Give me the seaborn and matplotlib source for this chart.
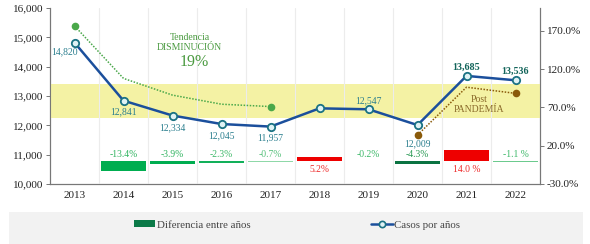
import numpy as np
import pandas as pd
import matplotlib
matplotlib.use("Agg")
import matplotlib.pyplot as plt
from matplotlib.patches import Rectangle, Patch
from matplotlib.lines import Line2D
import seaborn as sns

# ---------------- data ----------------
years = ["2013", "2014", "2015", "2016", "2017", "2018", "2019", "2020", "2021", "2022"]
casos = [14820, 12841, 12334, 12045, 11957, 12579, 12547, 12009, 13685, 13536]
casos_labels = ["14,820", "12,841", "12,334", "12,045", "11,957", "", "12,547", "12,009", "13,685", "13,536"]
diferencia = [np.nan, -13.4, -3.9, -2.3, -0.7, 5.2, -0.2, -4.3, 14.0, -1.1]
diferencia_labels = ["", "-13.4%", "-3.9%", "-2.3%", "-0.7%", "5.2%", "-0.2%", "-4.3%", "14.0 %", "-1.1 %"]
tendencia_years = ["2013", "2014", "2015", "2016", "2017"]
tendencia = [15390, 13600, 13030, 12720, 12640]
post_years = ["2020", "2021", "2022"]
post = [11670, 13300, 13090]
banda = [12250, 13400]
left_ticks = [10000, 11000, 12000, 13000, 14000, 15000, 16000]
right_ticks = [-30, 20, 70, 120, 170]

# ---------------- styles ----------------
bar_colors = ["#00ad50", "#00ad50", "#12b05a", "#8fd8a8", "#ee0000", "#8fd8a8", "#0b7341", "#ee0000", "#6cca8e"]
pct_text_colors = ["", "#2eb35e", "#2eb35e", "#3cb868", "#55c07a", "#ee2a2a", "#3cb868", "#2a9a55", "#ee2a2a", "#3cb868"]
# label offsets in pixels (dx, dy) relative to the point
lab_off = [(-10, -9), (0, -11), (0, -12), (0, -12), (0, -11), (0, 0), (0, 9), (0, -19), (0, 9), (0, 9)]

sns.set_theme(style="white")
plt.rcParams["font.family"] = ["Liberation Serif", "DejaVu Serif"]

fig = plt.figure(figsize=(5.9, 2.44), dpi=100)
W, H = 590, 244
ax = fig.add_axes([50 / W, 1 - 184 / H, 490 / W, 176 / H])
ax2 = ax.twinx()

df = pd.DataFrame({"pos": np.arange(len(years)), "anio": years, "casos": casos, "dif": diferencia})
pos_of = {y: i for i, y in enumerate(years)}

# band
ax.axhspan(banda[0], banda[1], color="#f4f2a4", zorder=0, lw=0)

# vertical grid at category boundaries
for b in np.arange(0.5, len(years) - 0.5, 1):
    ax.axvline(b, color="#ececec", lw=0.8, zorder=0.5)

# trend lines
sns.lineplot(x=[pos_of[y] for y in tendencia_years], y=tendencia, ax=ax, color="#4aa84a",
             linestyle=(0, (1, 1)), lw=1.1, marker="o", markersize=5.5, markevery=[0, len(tendencia) - 1],
             markeredgewidth=0, zorder=3)
sns.lineplot(x=[pos_of[y] for y in post_years], y=post, ax=ax, color="#8a5a0a",
             linestyle=(0, (1, 1)), lw=1.1, marker="o", markersize=5.5, markevery=[0, len(post) - 1],
             markeredgewidth=0, zorder=3)

# main line
sns.lineplot(data=df, x="pos", y="casos", ax=ax, color="#1b4f9c", lw=1.8, marker="o",
             markersize=5.3, markerfacecolor="#dff2f5", markeredgecolor="#1a7283", markeredgewidth=1.3,
             zorder=4)

# value labels
for i, (v, lab) in enumerate(zip(casos, casos_labels)):
    if not lab:
        continue
    bold = i >= 8
    ax.annotate(lab, (i, v), xytext=lab_off[i], textcoords="offset pixels", ha="center", va="center",
                fontsize=7.2 if bold else 6.9, fontweight="bold" if bold else "normal",
                color="#12645a" if bold else "#2a7e8e", zorder=5)

ax.text(2.35, 14810, "Tendencia\nDISMINUCIÓN", ha="center", va="center", fontsize=7,
        color="#4a9a40", linespacing=1.15)
ax.text(2.45, 14160, "19%", ha="center", va="center", fontsize=11.5, color="#4a9a40")
ax.text(8.25, 12700, "Post\nPANDEMÍA", ha="center", va="center", fontsize=7,
        color="#8a6a2a", linespacing=1.15)

# bars on secondary axis
sns.barplot(data=df, x="pos", y="dif", ax=ax2, native_scale=True, width=0.92, color="#00ad50",
            errorbar=None, zorder=3)
for p, c in zip(ax2.patches, bar_colors):
    p.set_facecolor(c)
    p.set_edgecolor("none")

for i, (d, lab) in enumerate(zip(diferencia, diferencia_labels)):
    if not lab:
        continue
    off = 7 if d < 0 else -8
    ax2.annotate(lab, (i, 0), xytext=(0, off), textcoords="offset pixels", ha="center", va="center",
                 fontsize=6.9, color=pct_text_colors[i])

# axes formatting
ax.set_xlim(-0.5, len(years) - 0.5)
ax.set_ylim(10000, 16000)
ax2.set_ylim(-30, 200)
ax.set_yticks(left_ticks)
ax.set_yticklabels([f"{t:,}" for t in left_ticks])
ax2.set_yticks(right_ticks)
ax2.set_yticklabels([f"{t:.1f}%" for t in right_ticks])
ax.set_xticks(np.arange(len(years)))
ax.set_xticklabels(years)
ax.set_xticks(np.arange(0.5, len(years) - 0.5, 1), minor=True)
ax.tick_params(axis="x", which="major", length=0, labelsize=8, pad=5, colors="#222222")
ax.tick_params(axis="x", which="minor", length=3, width=0.7, color="#777777", direction="out")
ax.tick_params(axis="y", length=3, width=0.7, color="#777777", labelsize=8, pad=2, labelcolor="#222222", left=True)
ax2.tick_params(axis="y", length=3, width=0.7, color="#777777", labelsize=8, pad=2, labelcolor="#222222", right=True)
ax.set_xlabel("")
ax.set_ylabel("")
ax2.set_xlabel("")
ax2.set_ylabel("")
for a in (ax, ax2):
    a.patch.set_visible(False)
    a.spines["top"].set_visible(False)
    for s in ("left", "right", "bottom"):
        a.spines[s].set_color("#777777")
        a.spines[s].set_linewidth(0.8)
ax.set_zorder(ax2.get_zorder() + 1)
ax.grid(False)
ax2.grid(False)

# legend box
fig.patches.append(Rectangle((9 / W, 0), (583 - 9) / W, (H - 212) / H, transform=fig.transFigure,
                             facecolor="#f2f2f2", edgecolor="none", zorder=0))
handles = [Patch(facecolor="#0b7a48", edgecolor="none"),
           Line2D([0], [0], color="#1b4f9c", lw=1.8, marker="o", markersize=4.5,
                  markerfacecolor="#dff2f5", markeredgecolor="#1a7283", markeredgewidth=1.2)]
fig.legend(handles, ["Diferencia entre años", "Casos por años"], loc="center",
           bbox_to_anchor=(297 / W, 1 - 225 / H), ncol=2, frameon=False, fontsize=7.8,
           handlelength=2.0, handleheight=0.6, handletextpad=0.1, columnspacing=11.2,
           labelcolor="#444444")

fig.savefig("out.png", dpi=100)
